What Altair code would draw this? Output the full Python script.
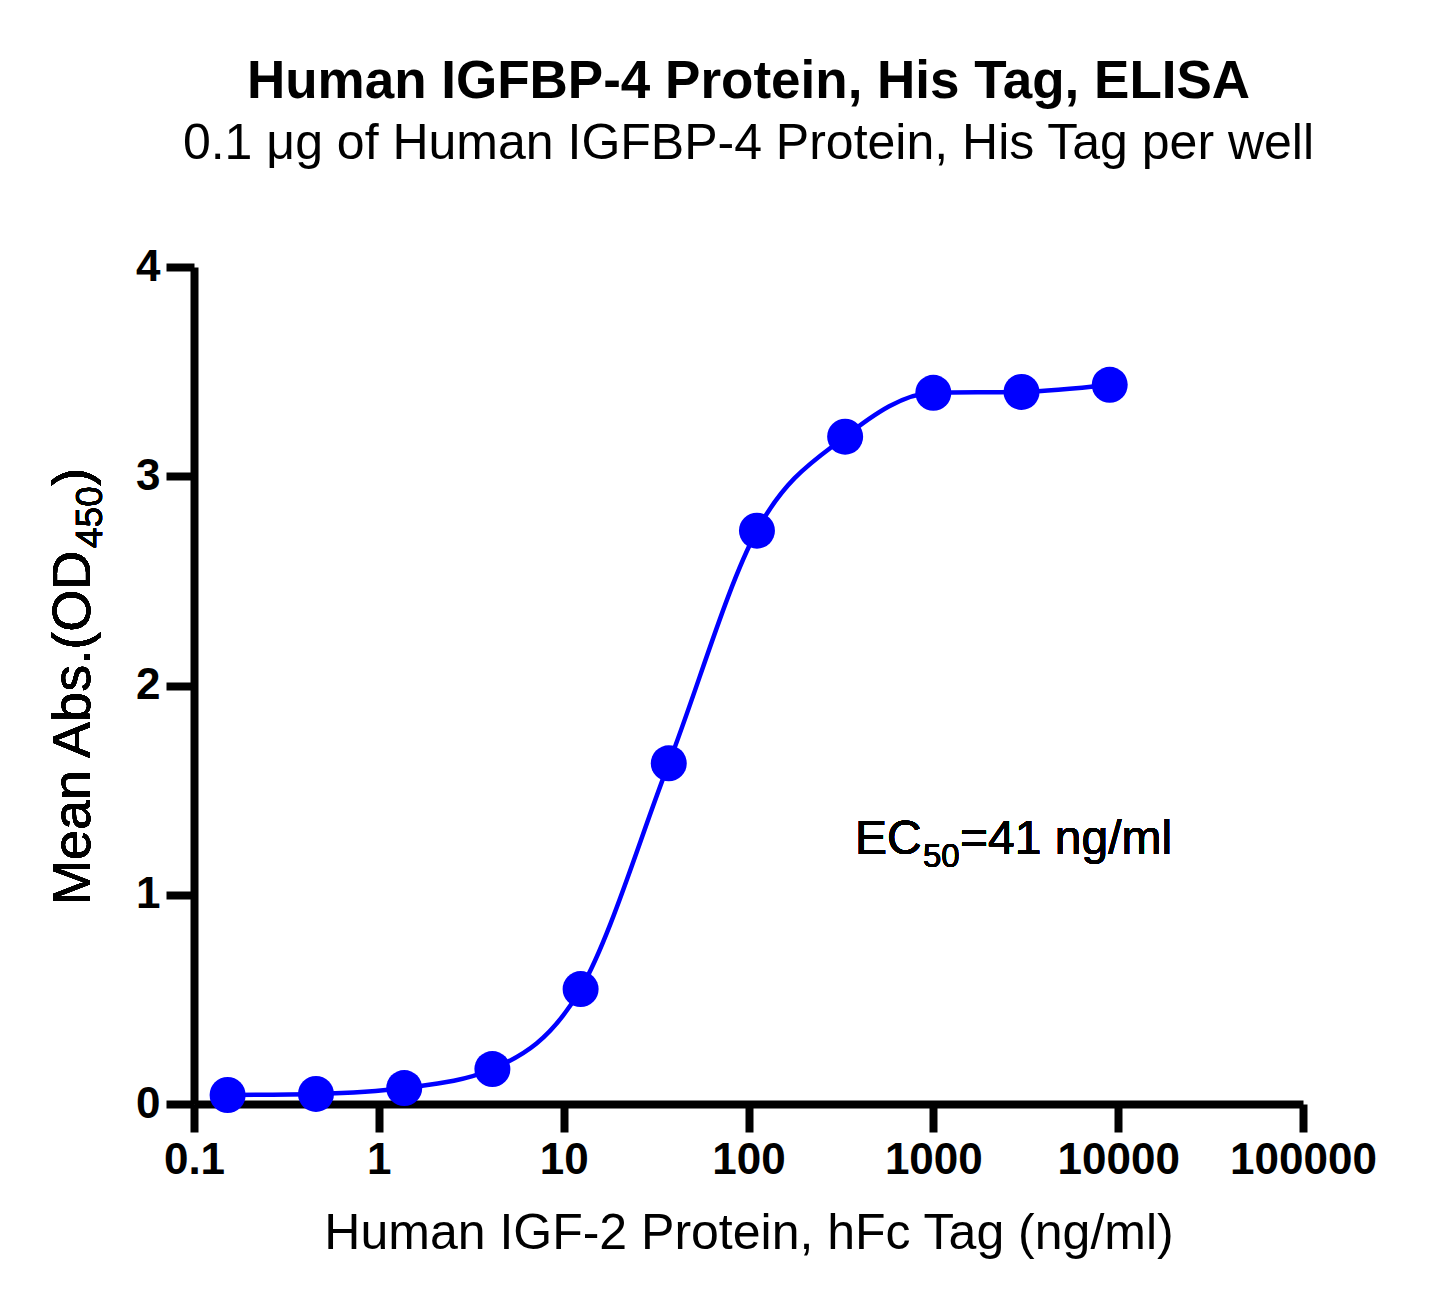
import altair as alt
import pandas as pd

# IGF-2 hFc concentration (ng/ml), 3-fold dilution series
concentration = [0.152, 0.457, 1.372, 4.115, 12.35, 37.04, 111.1, 333.3, 1000, 3000, 9000]
# mean OD450 readings
mean_abs = [0.043, 0.048, 0.076, 0.167, 0.549, 1.628, 2.740, 3.189, 3.399, 3.403, 3.437]

x_ticks = [0.1, 1, 10, 100, 1000, 10000, 100000]
y_ticks = [0, 1, 2, 3, 4]

FONT = "Liberation Sans"
BLUE = "#0000FF"

df = pd.DataFrame({"conc": concentration, "od": mean_abs})

axis_style = dict(
    labelFontSize=44,
    labelFontWeight="bold",
    tickSize=28,
    tickWidth=8,
    domainWidth=8,
    grid=False,
)

x_enc = alt.X(
    "conc:Q",
    scale=alt.Scale(type="log", domain=[0.1, 100000]),
    axis=alt.Axis(
        values=x_ticks,
        format="~g",
        title="Human IGF-2 Protein, hFc Tag (ng/ml)",
        titleFontSize=50,
        titleFontWeight="normal",
        titlePadding=26,
        labelPadding=6,
        labelFlush=False,
        labelOverlap=False,
        **axis_style,
    ),
)
y_enc = alt.Y(
    "od:Q",
    scale=alt.Scale(domain=[0, 4]),
    axis=alt.Axis(values=y_ticks, format="d", title=None, labelPadding=6, **axis_style),
)

curve = alt.Chart(df).mark_line(
    color=BLUE, strokeWidth=4.5, interpolate="monotone"
).encode(x=x_enc, y=y_enc)

points = alt.Chart(df).mark_point(
    filled=True, shape="circle", size=1296, color=BLUE, opacity=1
).encode(x="conc:Q", y="od:Q")


def label(text, x, y, size, angle=0):
    return alt.Chart(df).mark_text(
        align="left", baseline="alphabetic", fontSize=size, font=FONT,
        color="black", angle=angle,
    ).encode(x=alt.value(x), y=alt.value(y), text=alt.value(text))


# y axis title with subscript, rotated
y_title = [
    label("Mean Abs.(OD", -104, 638, 54, 270),
    label("450", -92, 281, 37, 270),
    label(")", -104, 219, 54, 270),
]

# EC50 annotation
ec50 = [
    label("EC", 661, 587, 48),
    label("50", 729, 600, 33),
    label("=41 ng/ml", 766, 587, 48),
]

chart = (
    alt.layer(curve, points, *y_title, *ec50)
    .properties(
        width=1109,
        height=837,
        autosize=alt.AutoSizeParams(type="none"),
        padding={"left": 186, "top": 259, "right": 134, "bottom": 191},
        title=alt.TitleParams(
            text="Human IGFBP-4 Protein, His Tag, ELISA",
            subtitle="0.1 μg of Human IGFBP-4 Protein, His Tag per well",
            fontSize=53,
            fontWeight="bold",
            subtitleFontSize=50,
            subtitlePadding=10,
            font=FONT,
            subtitleFont=FONT,
            color="black",
            subtitleColor="black",
            anchor="middle",
            offset=76,
        ),
    )
    .configure_axis(
        labelFont=FONT,
        titleFont=FONT,
        labelColor="black",
        titleColor="black",
        domainColor="black",
        tickColor="black",
    )
    .configure_view(stroke=None)
)

chart.save("out.html", embed_options={"renderer": "svg", "actions": False})
